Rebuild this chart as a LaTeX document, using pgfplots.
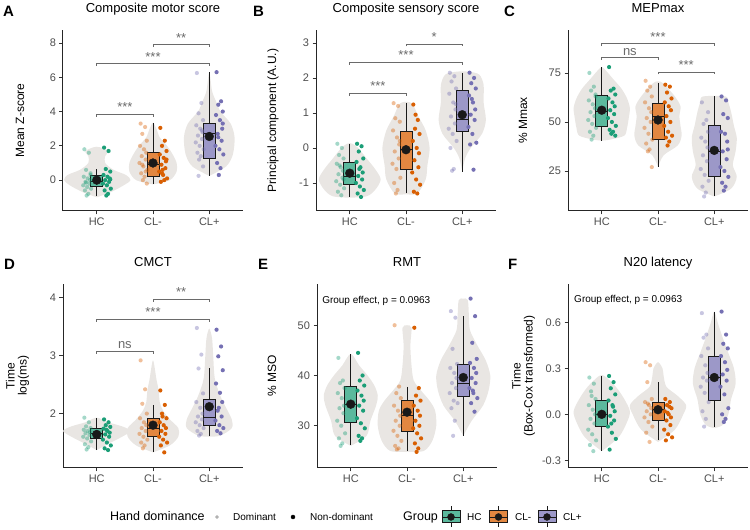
\documentclass[border=0pt]{standalone}
\usepackage{fontspec}
\setmainfont{Liberation Sans}
\usepackage{pgfplots}
\pgfplotsset{compat=1.18}
\usepgfplotslibrary{statistics}
\definecolor{hc}{HTML}{1B9E77}
\definecolor{clm}{HTML}{D95F02}
\definecolor{clp}{HTML}{7570B3}
\colorlet{hcbox}{hc!72!white}
\colorlet{clmbox}{clm!75!white}
\colorlet{clpbox}{clp!72!white}
\definecolor{vgray}{HTML}{E9E6E3}
\definecolor{txtgray}{HTML}{4D4D4D}
\definecolor{brkgray}{HTML}{6A6A6A}
\newcommand{\fs}[1]{\fontsize{#1}{#1}\selectfont}
\pgfplotsset{
  panel/.style={
    scale only axis, width=180pt, anchor=south west,
    xmin=0.4, xmax=3.6, xtick={1,2,3}, xticklabels={HC,CL-,CL+},
    axis x line*=bottom, axis y line*=left,
    axis line style={line width=1pt, black!85},
    every tick/.style={line width=0.8pt, black!80},
    tick align=outside, major tick length=3.5pt,
    tick label style={font=\fs{11}, text=txtgray},
    /pgf/number format/assume math mode=true,
    title style={at={(axis description cs:0.5,1)}, anchor=base, yshift=11pt, font=\fs{13}},
    ylabel style={anchor=center, font=\fs{12}, align=center},
    clip=false,
  },
  dom/.style={only marks, mark=*, mark size=2.1pt, draw=#1, fill=#1, xshift=-1.7pt, mark options={draw opacity=0, fill opacity=0.4}},
  ndom/.style={only marks, mark=*, mark size=2.1pt, draw=#1, fill=#1, xshift=1.7pt, mark options={draw opacity=0}},
  vio/.style={fill=vgray, draw=none, smooth, tension=0.5},
  mn/.style={only marks, mark=*, mark size=4.4pt, draw=black!90, fill=black!90},
}
\newcommand{\bx}[7]{\addplot[boxplot/draw direction=y, boxplot prepared={draw position=#1, lower whisker=#2, lower quartile=#3, median=#4, upper quartile=#5, upper whisker=#6, box extend=0.21, whisker extend=0}, fill=#7, draw=black!90, line width=0.8pt] coordinates {};}
\newcommand{\brk}[5]{\draw[brkgray, line width=0.7pt] (axis cs:#1,#3) ++(0pt,-2.5pt) -- ++(0pt,2.5pt) -- (axis cs:#2,#3) -- ++(0pt,-2.5pt);
  \node[anchor=base, font=\fs{13}, text=brkgray, inner sep=0pt, yshift=2.5pt] at (axis cs:#4,#3) {#5};}
\begin{document}
\begin{tikzpicture}
\path[use as bounding box] (0,0) rectangle (750pt,530pt);
% ---------------- A
\begin{axis}[panel, at={(63pt,319pt)}, height=181pt, ymin=-1.8, ymax=8.76, ytick={0,2,4,6,8},
  title={Composite motor score}, ylabel={Mean Z-score}, ylabel style={at={(axis description cs:-0.239,0.5)}}]
\addplot[vio] coordinates {(1,-1)(1.25,-0.7)(1.48,-0.3)(1.6,0)(1.52,0.3)(1.3,0.6)(1.15,1.0)(1.15,1.4)(1.2,1.7)(1,1.95)(0.8,1.7)(0.85,1.4)(0.85,1.0)(0.7,0.6)(0.48,0.3)(0.42,0)(0.52,-0.3)(0.75,-0.7)(1,-1)};
\addplot[vio] coordinates {(2,-0.25)(2.3,0)(2.42,0.5)(2.42,1.0)(2.35,1.5)(2.25,2.0)(2.12,2.5)(2.06,3.0)(2,3.35)(1.94,3.0)(1.88,2.5)(1.75,2.0)(1.65,1.5)(1.58,1.0)(1.58,0.5)(1.7,0)(2,-0.25)};
\addplot[vio] coordinates {(3,0.25)(3.3,0.8)(3.42,1.5)(3.45,2.5)(3.38,3.3)(3.2,4.0)(3.12,4.6)(3.05,5.2)(3,6.3)(2.95,5.2)(2.88,4.6)(2.8,4.0)(2.62,3.3)(2.55,2.5)(2.58,1.5)(2.7,0.8)(3,0.25)};
\bx{1}{-0.95}{-0.37}{-0.08}{0.25}{0.65}{hcbox}
\bx{2}{-0.2}{0.2}{0.9}{1.62}{3.35}{clmbox}
\bx{3}{0.25}{1.25}{2.7}{3.3}{6.3}{clpbox}
\addplot[dom=hc] coordinates {(0.81,1.8)(0.89,1.6)(0.84,0.6)(0.92,0.4)(0.80,0.2)(0.87,0.1)(0.91,0)(0.83,-0.1)(0.90,-0.2)(0.79,-0.3)(0.86,-0.4)(0.93,-0.5)(0.82,-0.6)(0.88,-0.8)(0.85,-0.9)(0.92,0.3)(0.84,-0.15)};
\addplot[ndom=hc] coordinates {(1.10,1.9)(1.18,1.7)(1.13,0.65)(1.21,0.5)(1.09,0.3)(1.16,0.2)(1.20,0.1)(1.12,0)(1.19,-0.1)(1.08,-0.2)(1.15,-0.3)(1.22,-0.5)(1.11,-0.6)(1.17,-0.8)(1.14,-0.9)(1.21,0.05)};
\addplot[dom=clm] coordinates {(1.81,3.3)(1.89,3.1)(1.84,2.7)(1.92,2.3)(1.80,2.0)(1.87,1.8)(1.91,1.6)(1.83,1.4)(1.90,1.2)(1.79,1.0)(1.86,0.8)(1.93,0.6)(1.82,0.4)(1.88,0.2)(1.85,0.0)(1.92,-0.2)(1.84,0.9)(1.90,0.5)};
\addplot[ndom=clm] coordinates {(2.10,3.05)(2.18,2.3)(2.13,2.0)(2.21,1.7)(2.09,1.5)(2.16,1.3)(2.20,1.1)(2.12,0.9)(2.19,0.7)(2.08,0.5)(2.15,0.3)(2.22,0.1)(2.11,-0.1)(2.17,0.0)(2.14,0.6)(2.21,1.2)(2.13,0.4)};
\addplot[dom=clp] coordinates {(2.81,6.25)(2.89,4.5)(2.84,3.9)(2.92,3.5)(2.80,3.2)(2.87,3.0)(2.91,2.8)(2.83,2.6)(2.90,2.4)(2.79,2.2)(2.86,2.0)(2.93,1.8)(2.82,1.6)(2.88,1.4)(2.85,1.2)(2.92,0.8)(2.84,0.25)(2.90,2.9)};
\addplot[ndom=clp] coordinates {(3.10,6.3)(3.18,4.6)(3.13,4.4)(3.21,4.0)(3.09,3.8)(3.16,3.5)(3.20,3.0)(3.12,2.7)(3.19,2.3)(3.08,2.0)(3.15,1.8)(3.22,1.5)(3.11,1.0)(3.17,0.7)(3.14,0.3)(3.21,3.3)(3.13,2.5)};
\addplot[mn] coordinates {(1,0)(2,1.0)(3,2.55)};
\brk{1}{2}{3.85}{1.5}{***}
\brk{1}{3}{6.8}{2}{***}
\brk{2}{3}{7.9}{2.5}{**}
\end{axis}
% ---------------- B
\begin{axis}[panel, at={(316pt,319pt)}, height=181pt, ymin=-1.8, ymax=3.37, ytick={-1,0,1,2,3}, yticklabels={-1,0,1,2,3},
  title={Composite sensory score}, ylabel={Principal component (A.U.)}, ylabel style={at={(axis description cs:-0.239,0.5)}}]
\addplot[vio] coordinates {(1,-1.42)(1.3,-1.38)(1.45,-1.2)(1.55,-0.9)(1.45,-0.6)(1.3,-0.3)(1.15,0)(1.05,0.12)(1,0.14)(0.95,0.12)(0.85,0)(0.7,-0.3)(0.55,-0.6)(0.45,-0.9)(0.55,-1.2)(0.7,-1.38)(1,-1.42)};
\addplot[vio] coordinates {(2,-1.32)(2.2,-1.3)(2.35,-0.9)(2.38,-0.5)(2.42,0)(2.35,0.5)(2.22,0.9)(2.1,1.28)(1.9,1.28)(1.78,0.9)(1.65,0.5)(1.58,0)(1.62,-0.5)(1.65,-0.9)(1.8,-1.3)(2,-1.32)};
\addplot[vio] coordinates {(3,-0.68)(3.05,-0.3)(3.15,0)(3.35,0.4)(3.42,0.8)(3.38,1.3)(3.38,1.8)(3.3,2.1)(3.1,2.18)(2.9,2.18)(2.7,2.1)(2.62,1.8)(2.62,1.3)(2.58,0.8)(2.65,0.4)(2.85,0)(2.95,-0.3)(3,-0.68)};
\bx{1}{-1.4}{-1.05}{-0.8}{-0.41}{0.12}{hcbox}
\bx{2}{-1.3}{-0.62}{-0.05}{0.47}{1.28}{clmbox}
\bx{3}{-0.68}{0.48}{0.81}{1.65}{2.15}{clpbox}
\addplot[dom=hc] coordinates {(0.81,0.12)(0.89,0.0)(0.84,-0.2)(0.92,-0.3)(0.80,-0.45)(0.87,-0.55)(0.91,-0.65)(0.83,-0.75)(0.90,-0.85)(0.79,-0.95)(0.86,-1.05)(0.93,-1.15)(0.82,-1.25)(0.88,-1.35)(0.85,-0.5)(0.92,-0.9)};
\addplot[ndom=hc] coordinates {(1.10,0.12)(1.18,0.05)(1.13,-0.1)(1.21,-0.3)(1.09,-0.4)(1.16,-0.55)(1.20,-0.7)(1.12,-0.8)(1.19,-0.9)(1.08,-1.0)(1.15,-1.1)(1.22,-1.2)(1.11,-1.3)(1.17,-1.4)(1.14,-0.6)};
\addplot[dom=clm] coordinates {(1.81,1.28)(1.89,1.2)(1.84,0.85)(1.92,0.75)(1.80,0.5)(1.87,0.3)(1.91,0.1)(1.83,-0.1)(1.90,-0.3)(1.79,-0.45)(1.86,-0.6)(1.93,-0.85)(1.82,-1.0)(1.88,-1.2)(1.85,-1.3)(1.92,0.2)};
\addplot[ndom=clm] coordinates {(2.10,1.24)(2.18,0.8)(2.13,0.55)(2.21,0.4)(2.09,0.2)(2.16,0.0)(2.20,-0.15)(2.12,-0.35)(2.19,-0.55)(2.08,-0.7)(2.15,-0.9)(2.22,-1.05)(2.11,-1.25)(2.17,-1.3)(2.14,0.95)};
\addplot[dom=clp] coordinates {(2.81,2.15)(2.89,2.05)(2.84,1.9)(2.92,1.7)(2.80,1.55)(2.87,1.3)(2.91,1.1)(2.83,0.9)(2.90,0.7)(2.79,0.55)(2.86,0.4)(2.93,0.2)(2.82,0.0)(2.88,-0.6)(2.85,-0.65)(2.92,1.25)};
\addplot[ndom=clp] coordinates {(3.10,2.15)(3.18,2.0)(3.13,1.85)(3.21,1.7)(3.09,1.5)(3.16,1.3)(3.20,1.1)(3.12,0.95)(3.19,0.8)(3.08,0.6)(3.15,0.4)(3.22,0.15)(3.11,0.1)(3.17,-0.62)(3.14,1.4)};
\addplot[mn] coordinates {(1,-0.72)(2,-0.05)(3,0.95)};
\brk{1}{2}{1.57}{1.5}{***}
\brk{1}{3}{2.45}{2}{***}
\brk{2}{3}{2.97}{2.5}{*}
\end{axis}
% ---------------- C
\begin{axis}[panel, at={(568pt,319pt)}, height=181pt, ymin=4.6, ymax=96.9, ytick={25,50,75},
  title={MEPmax}, ylabel={\% Mmax}, ylabel style={at={(axis description cs:-0.25,0.5)}}]
\addplot[vio] coordinates {(1,40.5)(1.15,41)(1.4,43)(1.45,47)(1.48,52)(1.5,57)(1.45,62)(1.35,67)(1.2,72)(1.08,76)(1,78)(0.92,76)(0.8,72)(0.65,67)(0.55,62)(0.5,57)(0.52,52)(0.55,47)(0.6,43)(0.85,41)(1,40.5)};
\addplot[vio] coordinates {(2,27)(2.1,33)(2.35,38)(2.42,43)(2.4,48)(2.38,53)(2.4,58)(2.3,63)(2.15,68)(2.05,70.5)(1.95,70.5)(1.85,68)(1.7,63)(1.6,58)(1.62,53)(1.6,48)(1.58,43)(1.65,38)(1.9,33)(2,27)};
\addplot[vio] coordinates {(3,12)(3.3,16)(3.4,22)(3.33,28)(3.38,35)(3.4,42)(3.35,48)(3.3,55)(3.25,60)(3.2,63)(2.8,63)(2.75,60)(2.7,55)(2.65,48)(2.6,42)(2.62,35)(2.67,28)(2.6,22)(2.7,16)(3,12)};
\bx{1}{40.5}{47.8}{55.5}{63.6}{78}{hcbox}
\bx{2}{27}{41}{52.6}{59.4}{70}{clmbox}
\bx{3}{12}{22}{35}{48.3}{63}{clpbox}
\addplot[dom=hc] coordinates {(0.81,75)(0.89,68)(0.84,66)(0.92,63)(0.80,61)(0.87,59)(0.91,57)(0.83,55)(0.90,53)(0.79,51)(0.86,49)(0.93,47)(0.82,45)(0.88,43)(0.85,41)(0.92,64)};
\addplot[ndom=hc] coordinates {(1.10,78)(1.18,67)(1.13,66)(1.21,64)(1.09,62)(1.16,60)(1.20,58)(1.12,56)(1.19,54)(1.08,52)(1.15,50)(1.22,48)(1.11,46)(1.17,45)(1.14,44)(1.21,43)};
\addplot[dom=clm] coordinates {(1.81,71)(1.89,68)(1.84,66)(1.92,63)(1.80,60)(1.87,57)(1.91,55)(1.83,52)(1.90,50)(1.79,47)(1.86,44)(1.93,41)(1.82,39)(1.88,36)(1.85,35)(1.92,27)};
\addplot[ndom=clm] coordinates {(2.10,69)(2.18,68)(2.13,65)(2.21,62)(2.09,60)(2.16,58)(2.20,56)(2.12,53)(2.19,50)(2.08,48)(2.15,45)(2.22,43)(2.11,42)(2.17,40)(2.14,38)};
\addplot[dom=clp] coordinates {(2.81,60)(2.89,51)(2.84,49)(2.92,45)(2.80,42)(2.87,40)(2.91,37)(2.83,33)(2.90,30)(2.79,26)(2.86,23)(2.93,20)(2.82,17)(2.88,14)(2.85,12)(2.92,55)};
\addplot[ndom=clp] coordinates {(3.10,63)(3.18,61)(3.13,54)(3.21,52)(3.09,45)(3.16,44)(3.20,40)(3.12,35)(3.19,31)(3.08,27)(3.15,25)(3.22,22)(3.11,19)(3.17,17)(3.14,15)(3.21,36)};
\addplot[mn] coordinates {(1,56)(2,51)(3,35.5)};
\brk{1}{2}{82.8}{1.5}{ns}
\brk{1}{3}{90}{2}{***}
\brk{2}{3}{75.5}{2.5}{***}
\end{axis}
% ---------------- D
\begin{axis}[panel, at={(63pt,62pt)}, height=184pt, ymin=1.06, ymax=4.24, ytick={2,3,4},
  title={CMCT}, ylabel={Time\\log(ms)}, ylabel style={at={(axis description cs:-0.253,0.5)}}]
\addplot[vio] coordinates {(1,1.37)(1.25,1.5)(1.45,1.6)(1.6,1.7)(1.45,1.78)(1.2,1.85)(1,1.93)(0.8,1.85)(0.55,1.78)(0.4,1.7)(0.55,1.6)(0.75,1.5)(1,1.37)};
\addplot[vio] coordinates {(2,1.33)(2.3,1.45)(2.45,1.6)(2.45,1.75)(2.3,1.9)(2.18,2.05)(2.12,2.2)(2.1,2.4)(2.06,2.6)(2,2.92)(1.94,2.6)(1.9,2.4)(1.88,2.2)(1.82,2.05)(1.7,1.9)(1.55,1.75)(1.55,1.6)(1.7,1.45)(2,1.33)};
\addplot[vio] coordinates {(3,1.6)(3.2,1.62)(3.4,1.75)(3.4,1.9)(3.3,2.1)(3.2,2.3)(3.1,2.6)(3.07,3.0)(3.05,3.3)(3,3.47)(2.95,3.3)(2.93,3.0)(2.9,2.6)(2.8,2.3)(2.7,2.1)(2.6,1.9)(2.6,1.75)(2.8,1.62)(3,1.6)};
\bx{1}{1.37}{1.58}{1.65}{1.74}{1.92}{hcbox}
\bx{2}{1.33}{1.61}{1.75}{1.91}{2.15}{clmbox}
\bx{3}{1.62}{1.79}{1.94}{2.24}{2.78}{clpbox}
\addplot[dom=hc] coordinates {(0.81,1.93)(0.89,1.85)(0.84,1.78)(0.92,1.75)(0.80,1.72)(0.87,1.7)(0.91,1.68)(0.83,1.66)(0.90,1.63)(0.79,1.6)(0.86,1.57)(0.93,1.52)(0.82,1.47)(0.88,1.42)(0.85,1.38)};
\addplot[ndom=hc] coordinates {(1.10,1.9)(1.18,1.85)(1.13,1.8)(1.21,1.77)(1.09,1.74)(1.16,1.7)(1.20,1.67)(1.12,1.64)(1.19,1.6)(1.08,1.55)(1.15,1.5)(1.22,1.45)(1.11,1.4)(1.17,1.37)(1.14,1.72)};
\addplot[dom=clm] coordinates {(1.81,2.92)(1.89,2.42)(1.84,2.17)(1.92,2.0)(1.80,1.92)(1.87,1.85)(1.91,1.8)(1.83,1.75)(1.90,1.7)(1.79,1.65)(1.86,1.6)(1.93,1.55)(1.82,1.5)(1.88,1.45)(1.85,1.4)};
\addplot[ndom=clm] coordinates {(2.10,2.4)(2.18,2.15)(2.13,2.0)(2.21,1.92)(2.09,1.85)(2.16,1.8)(2.20,1.75)(2.12,1.7)(2.19,1.65)(2.08,1.6)(2.15,1.55)(2.22,1.5)(2.11,1.45)(2.17,1.33)(2.14,1.95)};
\addplot[dom=clp] coordinates {(2.81,3.48)(2.89,3.02)(2.84,2.78)(2.92,2.35)(2.80,2.2)(2.87,2.1)(2.91,2.0)(2.83,1.95)(2.90,1.9)(2.79,1.85)(2.86,1.8)(2.93,1.75)(2.82,1.7)(2.88,1.65)(2.85,1.62)};
\addplot[ndom=clp] coordinates {(3.10,3.45)(3.18,3.16)(3.13,2.99)(3.21,2.75)(3.09,2.52)(3.16,2.36)(3.20,2.2)(3.12,2.05)(3.19,1.95)(3.08,1.88)(3.15,1.8)(3.22,1.75)(3.11,1.7)(3.17,1.66)(3.14,2.1)};
\addplot[mn] coordinates {(1,1.64)(2,1.8)(3,2.12)};
\brk{1}{2}{3.08}{1.5}{ns}
\brk{1}{3}{3.63}{2}{***}
\brk{2}{3}{3.98}{2.5}{**}
\end{axis}
% ---------------- E
\begin{axis}[panel, at={(317pt,62pt)}, height=184pt, ymin=21.6, ymax=58.2, ytick={30,40,50},
  title={RMT}, ylabel={\% MSO}, ylabel style={at={(axis description cs:-0.25,0.5)}}]
\addplot[vio] coordinates {(1,26)(1.28,28)(1.35,31)(1.45,34)(1.48,36)(1.42,38)(1.3,40)(1.15,42)(1,44.3)(0.85,42)(0.7,40)(0.58,38)(0.52,36)(0.55,34)(0.65,31)(0.72,28)(1,26)};
\addplot[vio] coordinates {(2,24.8)(2.3,25)(2.45,27)(2.52,30)(2.5,33)(2.4,35)(2.25,37)(2.12,39)(2.08,42)(2.06,46)(2.08,49.5)(2,50)(1.92,49.5)(1.94,46)(1.92,42)(1.88,39)(1.75,37)(1.6,35)(1.5,33)(1.48,30)(1.55,27)(1.7,25)(2,24.8)};
\addplot[vio] coordinates {(3,28)(3.15,31)(3.35,34)(3.45,37)(3.48,40)(3.4,43)(3.25,46)(3.12,49)(3.1,52)(3.08,55)(3,55.3)(2.92,55)(2.9,52)(2.88,49)(2.75,46)(2.6,43)(2.52,40)(2.55,37)(2.65,34)(2.85,31)(3,28)};
\bx{1}{26.2}{30.7}{34.2}{37.8}{44.3}{hcbox}
\bx{2}{25}{28.8}{32}{35}{37.8}{clmbox}
\bx{3}{28}{35.8}{38.5}{42.3}{51.8}{clpbox}
\addplot[dom=hc] coordinates {(0.81,43.5)(0.89,39)(0.84,38.5)(0.92,37.5)(0.80,36.5)(0.87,35.5)(0.91,34)(0.83,33.5)(0.90,32.5)(0.79,31)(0.86,30)(0.93,28.5)(0.82,27.5)(0.88,26.5)(0.85,26)};
\addplot[ndom=hc] coordinates {(1.10,44.5)(1.18,40)(1.13,39)(1.21,38)(1.09,37)(1.16,36)(1.20,35)(1.12,34)(1.19,33)(1.08,31.5)(1.15,30.5)(1.22,29.5)(1.11,28)(1.17,27.5)(1.14,27)};
\addplot[dom=clm] coordinates {(1.81,50)(1.89,37.8)(1.84,36.5)(1.92,35.5)(1.80,34)(1.87,33)(1.91,32)(1.83,31)(1.90,30)(1.79,29)(1.86,28)(1.93,27)(1.82,26)(1.88,25.5)(1.85,25.3)};
\addplot[ndom=clm] coordinates {(2.10,49.5)(2.18,37.5)(2.13,36)(2.21,35)(2.09,34)(2.16,33)(2.20,32)(2.12,31)(2.19,30)(2.08,29.5)(2.15,28.5)(2.22,27.5)(2.11,26.5)(2.17,25.5)(2.14,24.8)};
\addplot[dom=clp] coordinates {(2.81,52.8)(2.89,51.5)(2.84,45.3)(2.92,42.3)(2.80,41.5)(2.87,40.5)(2.91,39.5)(2.83,38.5)(2.90,37.5)(2.79,36.5)(2.86,35)(2.93,34.5)(2.82,33.5)(2.88,31)(2.85,28)};
\addplot[ndom=clp] coordinates {(3.10,55.3)(3.18,51.8)(3.13,46.5)(3.21,43.3)(3.09,42.5)(3.16,41.5)(3.20,40.5)(3.12,39.5)(3.19,38.5)(3.08,37.5)(3.15,36.5)(3.22,35.5)(3.11,34.5)(3.17,32.8)(3.14,37)};
\addplot[mn] coordinates {(1,34.3)(2,32.7)(3,39.6)};
\node[anchor=west, font=\fs{10}, inner sep=0pt] at (axis cs:0.49,54.9) {Group effect, p = 0.0963};
\end{axis}
% ---------------- F
\begin{axis}[panel, at={(568pt,62pt)}, height=184pt, ymin=-0.35, ymax=0.85, ytick={-0.3,0,0.3,0.6}, yticklabels={-0.3,0.0,0.3,0.6},
  title={N20 latency}, ylabel={Time\\(Box-Cox transformed)}, ylabel style={at={(axis description cs:-0.247,0.5)}}]
\addplot[vio] coordinates {(1,-0.24)(1.3,-0.15)(1.45,-0.05)(1.5,0.02)(1.4,0.1)(1.25,0.18)(1.05,0.25)(0.95,0.25)(0.75,0.18)(0.6,0.1)(0.5,0.02)(0.55,-0.05)(0.7,-0.15)(1,-0.24)};
\addplot[vio] coordinates {(2,-0.18)(2.3,-0.1)(2.45,0)(2.5,0.06)(2.35,0.12)(2.15,0.18)(2.1,0.25)(2.08,0.3)(2,0.34)(1.92,0.3)(1.9,0.25)(1.85,0.18)(1.65,0.12)(1.5,0.06)(1.55,0)(1.7,-0.1)(2,-0.18)};
\addplot[vio] coordinates {(3,-0.09)(3.15,-0.07)(3.25,0)(3.3,0.1)(3.38,0.2)(3.35,0.3)(3.25,0.4)(3.15,0.5)(3.06,0.6)(3,0.67)(2.94,0.6)(2.85,0.5)(2.75,0.4)(2.65,0.3)(2.62,0.2)(2.7,0.1)(2.75,0)(2.85,-0.07)(3,-0.09)};
\bx{1}{-0.24}{-0.08}{0.0}{0.09}{0.25}{hcbox}
\bx{2}{-0.17}{-0.04}{0.03}{0.08}{0.21}{clmbox}
\bx{3}{-0.08}{0.09}{0.24}{0.38}{0.67}{clpbox}
\addplot[dom=hc] coordinates {(0.81,0.24)(0.89,0.2)(0.84,0.15)(0.92,0.1)(0.80,0.06)(0.87,0.03)(0.91,0.0)(0.83,-0.03)(0.90,-0.06)(0.79,-0.1)(0.86,-0.13)(0.93,-0.17)(0.82,-0.2)(0.88,-0.24)(0.85,0.12)};
\addplot[ndom=hc] coordinates {(1.10,0.25)(1.18,0.21)(1.13,0.17)(1.21,0.13)(1.09,0.09)(1.16,0.06)(1.20,0.02)(1.12,-0.01)(1.19,-0.04)(1.08,-0.08)(1.15,-0.12)(1.22,-0.16)(1.11,-0.23)(1.17,0.05)(1.14,-0.06)};
\addplot[dom=clm] coordinates {(1.81,0.34)(1.89,0.32)(1.84,0.21)(1.92,0.1)(1.80,0.08)(1.87,0.06)(1.91,0.04)(1.83,0.02)(1.90,0.0)(1.79,-0.02)(1.86,-0.05)(1.93,-0.08)(1.82,-0.12)(1.88,-0.18)(1.85,0.07)};
\addplot[ndom=clm] coordinates {(2.10,0.1)(2.18,0.08)(2.13,0.06)(2.21,0.04)(2.09,0.02)(2.16,0.0)(2.20,-0.02)(2.12,-0.04)(2.19,-0.07)(2.08,-0.1)(2.15,-0.13)(2.22,-0.15)(2.11,-0.17)(2.17,0.05)(2.14,0.01)};
\addplot[dom=clp] coordinates {(2.81,0.66)(2.89,0.52)(2.84,0.5)(2.92,0.43)(2.80,0.38)(2.87,0.32)(2.91,0.27)(2.83,0.24)(2.90,0.22)(2.79,0.18)(2.86,0.14)(2.93,0.08)(2.82,0.02)(2.88,-0.03)(2.85,-0.08)};
\addplot[ndom=clp] coordinates {(3.10,0.67)(3.18,0.52)(3.13,0.46)(3.21,0.43)(3.09,0.38)(3.16,0.34)(3.20,0.29)(3.12,0.26)(3.19,0.22)(3.08,0.18)(3.15,0.13)(3.22,0.04)(3.11,0.0)(3.17,-0.03)(3.14,-0.05)};
\addplot[mn] coordinates {(1,0.0)(2,0.03)(3,0.24)};
\node[anchor=west, font=\fs{10}, inner sep=0pt] at (axis cs:0.507,0.745) {Group effect, p = 0.0963};
\end{axis}
% ---------------- legend
\begin{axis}[at={(0pt,0pt)}, anchor=south west, scale only axis, width=750pt, height=40pt,
  xmin=0, xmax=750, ymin=0, ymax=40, hide axis, clip=false]
\node[anchor=base west, font=\fs{12.5}, inner sep=0pt] at (axis cs:110,9) {Hand dominance};
\addplot[only marks, mark=*, mark size=1.7pt, draw=black!30, fill=black!30] coordinates {(217,13)};
\node[anchor=base west, font=\fs{10}, inner sep=0pt] at (axis cs:233,9.3) {Dominant};
\addplot[only marks, mark=*, mark size=2pt, draw=black, fill=black] coordinates {(293,13)};
\node[anchor=base west, font=\fs{10}, inner sep=0pt] at (axis cs:310,9.3) {Non-dominant};
\node[anchor=base west, font=\fs{12.5}, inner sep=0pt] at (axis cs:403,9) {Group};
\addplot[black!90, line width=0.8pt] coordinates {(451,3)(451,24)};
\addplot[fill=hcbox, draw=black!90, line width=0.8pt] coordinates {(442,7.3)(460,7.3)(460,19.3)(442,19.3)(442,7.3)};
\addplot[black!90, line width=0.8pt] coordinates {(442,13)(460,13)};
\addplot[black!90, line width=0.8pt] coordinates {(498.5,3)(498.5,24)};
\addplot[fill=clmbox, draw=black!90, line width=0.8pt] coordinates {(489.5,7.3)(507.5,7.3)(507.5,19.3)(489.5,19.3)(489.5,7.3)};
\addplot[black!90, line width=0.8pt] coordinates {(489.5,13)(507.5,13)};
\addplot[black!90, line width=0.8pt] coordinates {(547,3)(547,24)};
\addplot[fill=clpbox, draw=black!90, line width=0.8pt] coordinates {(538,7.3)(556,7.3)(556,19.3)(538,19.3)(538,7.3)};
\addplot[black!90, line width=0.8pt] coordinates {(538,13)(556,13)};
\addplot[only marks, mark=*, mark size=3.5pt, draw=black!90, fill=black!90] coordinates {(451,13)(498.5,13)(547,13)};
\node[anchor=base west, font=\fs{10}, inner sep=0pt] at (axis cs:467,9.3) {HC};
\node[anchor=base west, font=\fs{10}, inner sep=0pt] at (axis cs:515,9.3) {CL-};
\node[anchor=base west, font=\fs{10}, inner sep=0pt] at (axis cs:563,9.3) {CL+};
\end{axis}
% panel letters
\node[anchor=base west, font=\bfseries\fs{15}, inner sep=0pt] at (3pt,513pt) {A};
\node[anchor=base west, font=\bfseries\fs{15}, inner sep=0pt] at (253pt,513pt) {B};
\node[anchor=base west, font=\bfseries\fs{15}, inner sep=0pt] at (504pt,513pt) {C};
\node[anchor=base west, font=\bfseries\fs{15}, inner sep=0pt] at (4pt,260pt) {D};
\node[anchor=base west, font=\bfseries\fs{15}, inner sep=0pt] at (258pt,260pt) {E};
\node[anchor=base west, font=\bfseries\fs{15}, inner sep=0pt] at (508pt,260pt) {F};
\end{tikzpicture}
\end{document}
